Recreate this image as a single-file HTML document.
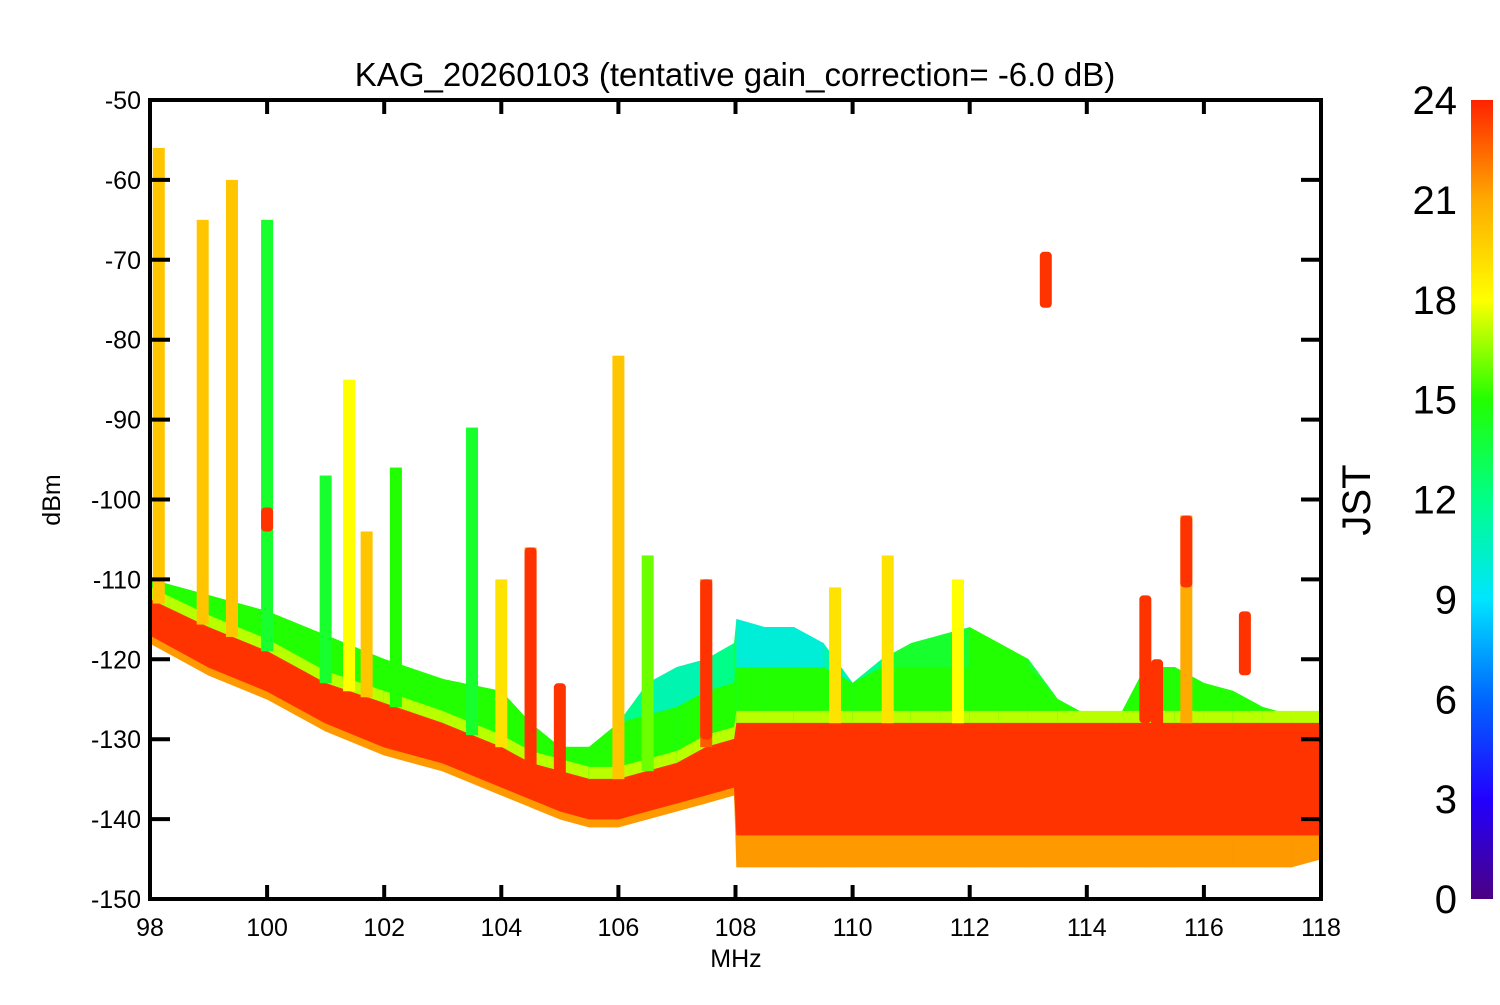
<!DOCTYPE html>
<html><head><meta charset="utf-8"><style>
body{margin:0;background:#fff}
svg text{font-family:"Liberation Sans",Arial,sans-serif;fill:#000}
</style></head><body>
<svg id="c" width="1500" height="1000" xmlns="http://www.w3.org/2000/svg">
<defs>
<linearGradient id="cbar" x1="0" y1="1" x2="0" y2="0">
<stop offset="0" stop-color="#4b0082"/><stop offset="0.125" stop-color="#2200ff"/><stop offset="0.25" stop-color="#0066ff"/>
<stop offset="0.375" stop-color="#00e5ff"/><stop offset="0.5" stop-color="#00ff88"/><stop offset="0.625" stop-color="#22ff00"/>
<stop offset="0.75" stop-color="#ffff00"/><stop offset="0.875" stop-color="#ffaa00"/><stop offset="1" stop-color="#ff2200"/>
</linearGradient>
<clipPath id="pc"><rect x="150" y="100" width="1171" height="799"/></clipPath>
</defs>
<g id="plot" clip-path="url(#pc)"></g>
<g id="axes"></g>
</svg>
<script>
// ---- data ----
const floorFreq   = [98,99,100,101,102,103,104,104.5,105,105.5,106,106.5,107,107.5,107.98,108.02,108.5,109,109.5,110,110.5,111,111.5,112,112.5,113,113.5,114,114.5,115,115.5,116,116.5,117,117.5,118];
const greenTop    = [-110,-112,-114,-117,-120,-122.5,-124,-128,-131,-131,-128,-123,-121,-120,-118,-115,-116,-116,-118,-123,-120,-118,-117,-116,-118,-120,-125,-127,-128,-121,-121,-123,-124,-126,-127,-127];
const greenHour   = [14,14,15,14,14,15,15,14,14,13,12,11,11,12,13,10,10,10,11,12,14,14,14,15,15,14,13,13,12,11,13,14,14,13,12,12];
const redTop      = [-112.5,-116,-119,-123,-125.5,-128,-131,-133,-134,-135,-135,-134,-133,-131,-130,-128,-128,-128,-128,-128,-128,-128,-128,-128,-128,-128,-128,-128,-128,-128,-128,-128,-128,-128,-128,-128];
const redBottom   = [-117,-121,-124,-128,-131,-133,-136,-137.5,-139,-140,-140,-139,-138,-137,-136,-142,-142,-142,-142,-142,-142,-142,-142,-142,-142,-142,-142,-142,-142,-142,-142,-142,-142,-142,-142,-142];
const lowEdge     = [-118,-122,-125,-129,-132,-134,-137,-138.5,-140,-141,-141,-140,-139,-138,-137,-146,-146,-146,-146,-146,-146,-146,-146,-146,-146,-146,-146,-146,-146,-146,-146,-146,-146,-146,-146,-145];
const spikeFreq   = [98.15,98.9,99.4,100,101,101.4,101.7,102.2,103.5,104,104.5,106,106.5,107.5,109.7,110.6,111.8,115.7];
const spikeTop    = [-56,-65,-60,-65,-97,-85,-104,-96,-91,-110,-106,-82,-107,-110,-111,-107,-110,-102];
const spikeHour   = [20,20,20,14,14,18,20,15,14,19,21,20,16,23,19,19,18,21];
const blockFreq   = [100,104.5,105,107.5,113.3,115,115.2,115.7,116.7];
const blockTop    = [-101,-106,-123,-110,-69,-112,-120,-102,-114];
const blockBottom = [-104,-134,-137,-130,-76,-128,-130,-111,-122];
const xTicks = [98,100,102,104,106,108,110,112,114,116,118];
const yTicks = [-50,-60,-70,-80,-90,-100,-110,-120,-130,-140,-150];
const cTicks = [0,3,6,9,12,15,18,21,24];

// ---- scales ----
const X0=150,X1=1321,Y0=100,Y1=899;
const xs=f=>X0+(f-98)/20*(X1-X0);
const ys=d=>Y0+(-50-d)/100*(Y1-Y0);
const cs=h=>Y1-h/24*(Y1-Y0);
const stops=[[0,[75,0,130]],[3,[34,0,255]],[6,[0,102,255]],[9,[0,229,255]],[12,[0,255,136]],[15,[34,255,0]],[18,[255,255,0]],[21,[255,170,0]],[24,[255,51,0]]];
function hcol(h){for(let i=1;i<stops.length;i++){if(h<=stops[i][0]){const [a,ca]=stops[i-1],[b,cb]=stops[i];const t=(h-a)/(b-a);return 'rgb('+ca.map((v,k)=>Math.round(v+(cb[k]-v)*t)).join(',')+')';}}return 'rgb(255,51,0)';}
const NS='http://www.w3.org/2000/svg';
function mk(tag,attrs,parent){const e=document.createElementNS(NS,tag);for(const k in attrs)e.setAttribute(k,attrs[k]);parent.appendChild(e);return e;}
const plot=document.getElementById('plot'),axes=document.getElementById('axes');

function band(i,topA,topB,botA,botB,fill,name){
 const a=floorFreq[i],b=floorFreq[i+1];
 const p=mk('polygon',{points:`${xs(a)},${ys(topA)} ${xs(b)},${ys(topB)} ${xs(b)},${ys(botB)} ${xs(a)},${ys(botA)}`,fill:fill,stroke:fill,'stroke-width':0.6},plot);
 
 
}
for(let i=0;i<floorFreq.length-1;i++){
 band(i,greenTop[i],greenTop[i+1],redTop[i],redTop[i+1],hcol(greenHour[i]),'noise-spread-segment');
 const midA=Math.min(greenTop[i],redTop[i]+7),midB=Math.min(greenTop[i+1],redTop[i+1]+7);
 band(i,midA,midB,redTop[i],redTop[i+1],hcol(15),'noise-lower-spread');
 band(i,redTop[i]+1.5,redTop[i+1]+1.5,redTop[i],redTop[i+1],'#b8ff00','noise-yellow-band');
 band(i,redBottom[i],redBottom[i+1],lowEdge[i],lowEdge[i+1],'#ff9900','noise-low-band');
 band(i,redTop[i],redTop[i+1],redBottom[i],redBottom[i+1],'#ff3300','noise-floor-band');
}
function floorAt(f){for(let i=0;i<floorFreq.length-1;i++)if(f>=floorFreq[i]&&f<=floorFreq[i+1]){const t=(f-floorFreq[i])/(floorFreq[i+1]-floorFreq[i]);return redTop[i]+(redTop[i+1]-redTop[i])*t;}return -130;}
spikeFreq.forEach((f,i)=>{
 const y0=ys(spikeTop[i]),y1=ys(floorAt(f));
 const r=mk('rect',{x:xs(f)-6,y:y0,width:12,height:y1-y0,fill:hcol(spikeHour[i])},plot);
 
 
});
blockFreq.forEach((f,i)=>{
 const y0=ys(blockTop[i]),y1=ys(blockBottom[i]);
 const r=mk('rect',{x:xs(f)-6,y:y0,width:12,height:y1-y0,fill:'#ff3300',rx:4},plot);
 
 
});

const fr=mk('rect',{x:X0,y:Y0,width:X1-X0,height:Y1-Y0,fill:'none',stroke:'#000','stroke-width':4},axes);


xTicks.forEach(v=>{
 const x=xs(v);
 mk('line',{x1:x,y1:Y1,x2:x,y2:Y1-14,stroke:'#000','stroke-width':4},axes);
 mk('line',{x1:x,y1:Y0,x2:x,y2:Y0+14,stroke:'#000','stroke-width':4},axes);
 const t=mk('text',{x:x,y:936,'text-anchor':'middle','font-size':25},axes);t.textContent=v;
 
 
});
yTicks.forEach(v=>{
 const y=ys(v);
 mk('line',{x1:X0,y1:y,x2:X0+20,y2:y,stroke:'#000','stroke-width':4},axes);
 mk('line',{x1:X1,y1:y,x2:X1-20,y2:y,stroke:'#000','stroke-width':4},axes);
 const t=mk('text',{x:141,y:y+9,'text-anchor':'end','font-size':25},axes);t.textContent=v;
 
 
});
const cb=mk('rect',{x:1471,y:Y0,width:22,height:Y1-Y0,fill:'url(#cbar)'},axes);


cTicks.forEach(v=>{
 const t=mk('text',{x:1457,y:cs(v)+14,'text-anchor':'end','font-size':40},axes);t.textContent=v;
 
 
});
</script>
<svg style="position:absolute;left:0;top:0" width="1500" height="1000">
<text x="735" y="86" text-anchor="middle" font-size="33">KAG_20260103 (tentative gain_correction= -6.0 dB)</text>
<text x="736" y="967" text-anchor="middle" font-size="25">MHz</text>
<text transform="translate(60,500) rotate(-90)" text-anchor="middle" font-size="25">dBm</text>
<text transform="translate(1370,500) rotate(-90)" text-anchor="middle" font-size="40">JST</text>
</svg>
</body></html>
